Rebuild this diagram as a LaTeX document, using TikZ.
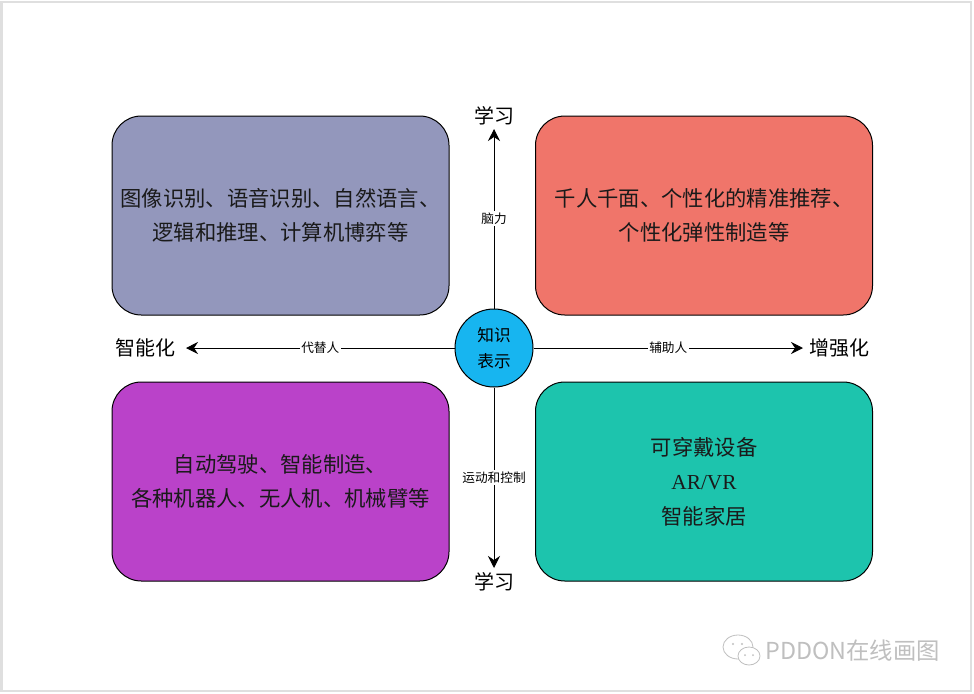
\documentclass[tikz,border=0pt]{standalone}
\usepackage{fontspec}
\setmainfont{Liberation Serif}
\newfontfamily\cjk{Noto Sans CJK SC}
\usetikzlibrary{arrows.meta}
\definecolor{cTL}{HTML}{9397BC}
\definecolor{cTR}{HTML}{F0756A}
\definecolor{cBL}{HTML}{BA42C9}
\definecolor{cBR}{HTML}{1DC4AD}
\definecolor{cC}{HTML}{17B5F0}
\definecolor{txt}{HTML}{1A1A1A}
\tikzset{
  quad/.style={draw=black, line width=0.75pt, rounded corners=22pt,
    minimum width=252.75pt, minimum height=149.25pt, align=center,
    text=txt, font=\cjk\fontsize{16}{26}\selectfont},
  core/.style={circle, draw=black, line width=0.75pt, fill=cC,
    minimum size=58.5pt, inner sep=0pt, align=center,
    font=\cjk\fontsize{12.5}{20}\selectfont},
  axislabel/.style={font=\cjk\fontsize{15}{18}\selectfont, inner sep=0pt},
  lbl/.style={font=\cjk\fontsize{9.5}{11}\selectfont, fill=white, inner sep=1.2pt},
  arr/.style={line width=0.75pt, -{Stealth[length=9pt,width=9pt,inset=3pt]}},
}
\begin{document}
\begin{tikzpicture}[x=0.75pt,y=-0.75pt]
\useasboundingbox (0,0) rectangle (974,693);
\fill[white] (0,0) rectangle (974,693);
\draw[gray!25, line width=1.5pt] (1.5,1.5) rectangle (971,690.5);

% quadrants
\node[quad, fill=cTL] (tl) at (280.5,215.5) {图像识别、语音识别、自然语言、\\逻辑和推理、计算机博弈等};
\node[quad, fill=cTR] (tr) at (704,215.5) {千人千面、个性化的精准推荐、\\个性化弹性制造等};
\node[quad, fill=cBL] (bl) at (280.5,481.5) {自动驾驶、智能制造、\\各种机器人、无人机、机械臂等};
\node[quad, fill=cBR] (br) at (704,481.5) {可穿戴设备\\{\fontsize{16}{26}\selectfont\rmfamily AR/VR}\\智能家居};

% centre
\node[core] (c) at (494,348) {知识\\表示};

% axis labels
\node[axislabel] (up) at (494,116) {学习};
\node[axislabel] (down) at (494,582) {学习};
\node[axislabel, anchor=east] (left) at (176,348) {智能化};
\node[axislabel, anchor=west] (right) at (809,348) {增强化};

\coordinate (upT) at (494,129);
\coordinate (downT) at (494,568);
\coordinate (leftT) at (186,348);
\coordinate (rightT) at (803,348);

\draw[arr] (c.north) -- node[lbl] (l1) {脑力} (upT);
\draw[arr] (c.south) -- node[lbl] (l2) {运动和控制} (downT);
\draw[arr] (c.west) -- node[lbl] (l3) {代替人} (leftT);
\draw[arr] (c.east) -- node[lbl] (l4) {辅助人} (rightT);

% watermark
\node[font=\cjk\fontsize{17.5}{20}\selectfont, text=gray!50, anchor=west, inner sep=0pt] (wm) at (765,651) {PDDON在线画图};
\draw[gray!50, line width=0.6pt] (738,647) ellipse (15 and 12);
\draw[gray!50, line width=0.6pt, fill=white] (749,656) ellipse (11 and 9);
\fill[gray!50] (733,644) circle (1.2) (742,644) circle (1.2) (745,655) circle (1) (753,655) circle (1);
\end{tikzpicture}
\end{document}
